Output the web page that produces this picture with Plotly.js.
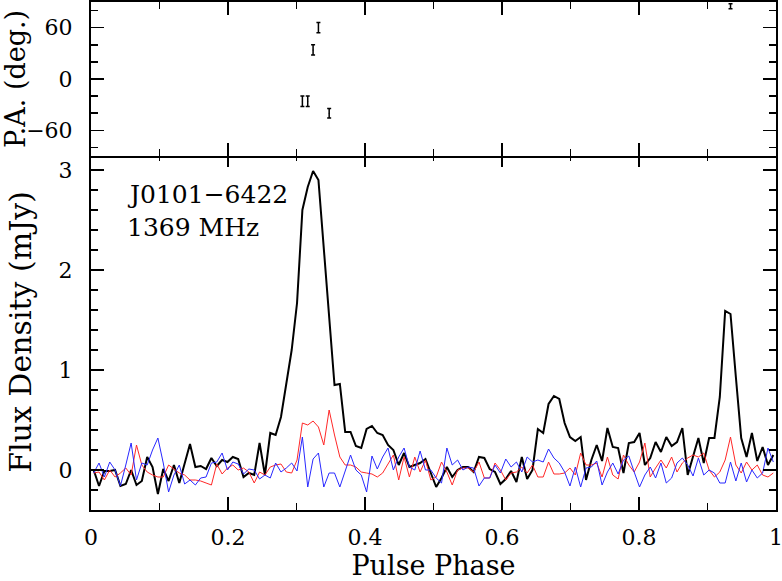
<!DOCTYPE html>
<html>
<head>
<meta charset="utf-8">
<script src="https://cdn.plot.ly/plotly-3.0.1.min.js"></script>
<style>
  body { margin: 0; background: #fff; }
  #viz { width: 782px; height: 581px; }
</style>
</head>
<body>
<div id="viz"></div>
<script>
// 128 phase bins across one rotation
var nBins = 128;

// total intensity (mJy)
var totalI = [
  0.00, -0.16, -0.01, -0.01, 0.00, -0.16, -0.14, 0.00, -0.15, -0.11,
  0.13, 0.03, -0.24, 0.01, -0.11, 0.05, -0.13, 0.07, 0.26, 0.03,
  0.04, 0.01, 0.12, 0.04, 0.10, 0.08, 0.13, 0.11, -0.07, -0.03,
  -0.05, 0.27, -0.05, 0.37, 0.35, 0.53, 0.87, 1.20, 1.67, 2.60,
  2.83, 2.99, 2.90, 2.20, 1.50, 0.85, 0.86, 0.38, 0.38, 0.24,
  0.22, 0.41, 0.44, 0.37, 0.35, 0.25, 0.20, 0.05, 0.17, 0.03,
  0.05, 0.07, 0.11, -0.03, -0.17, -0.08, 0.03, -0.07, 0.00, 0.03,
  0.03, -0.02, 0.13, 0.12, 0.01, -0.02, -0.14, -0.09, -0.01, -0.12,
  0.13, -0.09, 0.00, 0.41, 0.37, 0.66, 0.74, 0.71, 0.47, 0.33,
  0.29, 0.33, -0.10, 0.10, 0.25, 0.09, 0.42, 0.23, 0.22, -0.03,
  0.27, 0.28, 0.37, 0.05, 0.12, 0.28, 0.18, 0.33, 0.24, 0.28,
  0.42, -0.05, 0.13, 0.32, 0.07, 0.32, 0.32, 0.73, 1.59, 1.56,
  0.93, 0.32, 0.13, 0.37, 0.09, 0.23, 0.05, 0.15
];

// linear polarisation (red)
var linearL = [
  -0.03, -0.02, -0.10, 0.00, -0.07, -0.03, 0.02, -0.05, 0.25, 0.05,
  -0.02, -0.05, -0.07, -0.07, 0.05, 0.01, -0.03, -0.05, -0.10, -0.10,
  -0.11, -0.13, -0.15, 0.06, -0.04, 0.02, 0.05, 0.00, 0.02, -0.02,
  -0.13, -0.02, -0.05, 0.03, 0.05, 0.06, -0.02, -0.03, 0.10, 0.47,
  0.45, 0.49, 0.43, 0.25, 0.60, 0.35, 0.13, 0.05, 0.05, 0.03,
  -0.02, -0.03, -0.04, -0.07, -0.03, 0.06, 0.15, -0.10, 0.13, -0.07,
  0.13, -0.02, 0.10, -0.10, -0.07, 0.08, -0.02, -0.15, 0.00, 0.02,
  0.02, -0.02, 0.08, -0.08, -0.08, 0.07, 0.00, -0.10, -0.03, -0.02,
  0.03, -0.03, 0.05, -0.07, -0.07, 0.08, -0.04, -0.04, -0.03, 0.02,
  -0.05, 0.17, 0.05, 0.05, 0.07, -0.07, 0.13, -0.05, -0.09, 0.15,
  0.05, -0.02, 0.08, 0.27, -0.07, 0.02, 0.10, 0.02, 0.13, -0.02,
  0.07, 0.12, 0.15, 0.13, 0.17, 0.00, -0.07, -0.02, 0.10, 0.33,
  0.05, -0.03, 0.08, 0.00, 0.05, -0.05, -0.07, -0.03
];

// circular polarisation (blue)
var circV = [
  -0.03, 0.07, -0.07, 0.08, 0.00, -0.16, 0.05, 0.27, -0.10, 0.07,
  0.05, 0.20, 0.32, 0.07, -0.22, -0.05, 0.05, -0.14, -0.10, -0.15,
  -0.08, -0.07, 0.07, 0.08, 0.17, 0.00, 0.08, 0.06, -0.04, 0.01,
  0.00, -0.09, -0.05, -0.08, 0.07, -0.02, 0.02, 0.07, -0.01, 0.33,
  -0.17, 0.11, 0.17, -0.17, -0.03, -0.03, -0.17, -0.02, 0.15, 0.00,
  -0.05, -0.22, 0.14, 0.01, 0.13, 0.22, 0.00, 0.13, 0.22, 0.03,
  0.00, 0.19, 0.00, 0.00, -0.08, -0.13, 0.22, 0.05, 0.10, 0.00,
  0.03, 0.02, -0.16, -0.08, -0.08, 0.05, -0.03, 0.11, 0.03, 0.08,
  -0.02, 0.13, 0.08, 0.10, 0.08, 0.21, 0.12, 0.07, -0.02, -0.16,
  0.03, -0.17, 0.02, 0.03, 0.09, -0.15, -0.02, 0.07, -0.04, 0.10,
  0.14, -0.02, -0.17, -0.05, 0.03, -0.08, 0.07, -0.13, -0.08, 0.07,
  0.12, 0.05, -0.06, 0.12, -0.05, 0.00, -0.03, -0.13, -0.13, 0.08,
  -0.11, 0.07, -0.12, 0.00, -0.08, -0.03, 0.22, 0.08
];

// position angle points
var paPhase = [0.3086, 0.3164, 0.3242, 0.3320, 0.3477, 0.9336];
var paDeg   = [-26, -26, 34, 60, -40, 85];
var paErr   = [6, 6, 6, 6, 5.5, 3];

// axis ticks
var phaseTicks = [0, 0.2, 0.4, 0.6, 0.8, 1];
var phaseLabels = ['0', '0.2', '0.4', '0.6', '0.8', '1'];
var fluxTicks = [0, 1, 2, 3];
var paTicks = [-60, 0, 60];
var paLabels = ['\u221260', '0', '60'];

var phase = [];
for (var i = 0; i < nBins; i++) phase.push((i + 0.5) / nBins);

var fnt = 'DejaVu Serif, serif';

var traceI = {x: phase, y: totalI, mode: 'lines', xaxis: 'x', yaxis: 'y',
  line: {color: 'black', width: 2}, showlegend: false};
var traceL = {x: phase, y: linearL, mode: 'lines', xaxis: 'x', yaxis: 'y',
  line: {color: 'rgb(255,40,40)', width: 1}, showlegend: false};
var traceV = {x: phase, y: circV, mode: 'lines', xaxis: 'x', yaxis: 'y',
  line: {color: 'rgb(40,40,255)', width: 1}, showlegend: false};
var tracePA = {x: paPhase, y: paDeg, mode: 'markers', xaxis: 'x2', yaxis: 'y2',
  marker: {size: 1, color: 'black'},
  error_y: {type: 'data', array: paErr, visible: true, color: 'black', thickness: 1.5, width: 2},
  showlegend: false};

var axStyle = {
  showline: true, linecolor: 'black', linewidth: 2, mirror: 'ticks',
  ticks: 'inside', ticklen: 13, tickwidth: 1.5, tickcolor: 'black',
  showgrid: false, zeroline: false, ticklabeloverflow: 'allow',
  tickfont: {family: fnt, size: 22, color: 'black'}
};
var minorStyle = {ticks: 'inside', ticklen: 7, tickwidth: 1.5, tickcolor: 'black'};

var split = 356 / 508;

var layout = {
  width: 782, height: 581,
  margin: {l: 91, r: 6, t: 2, b: 71},
  paper_bgcolor: 'white', plot_bgcolor: 'white',
  xaxis: Object.assign({}, axStyle, {
    domain: [0, 1], anchor: 'y', range: [0, 1],
    tickmode: 'array', tickvals: phaseTicks, ticktext: phaseLabels,
    minor: Object.assign({dtick: 0.1}, minorStyle),
    ticklabelstandoff: 7,
    title: {text: 'Pulse Phase', font: {family: fnt, size: 27, color: 'black'}, standoff: 4}
  }),
  yaxis: Object.assign({}, axStyle, {
    domain: [0, split], anchor: 'x', range: [-0.4, 3.16],
    tickmode: 'array', tickvals: fluxTicks,
    minor: Object.assign({dtick: 0.2}, minorStyle),
    ticklabelstandoff: 12,
    title: {text: 'Flux Density (mJy)', font: {family: fnt, size: 30, color: 'black'}, standoff: 18}
  }),
  xaxis2: Object.assign({}, axStyle, {
    domain: [0, 1], anchor: 'y2', range: [0, 1],
    tickmode: 'array', tickvals: phaseTicks,
    showticklabels: false,
    minor: Object.assign({dtick: 0.1}, minorStyle)
  }),
  yaxis2: Object.assign({}, axStyle, {
    domain: [split - 2 / 508, 1], anchor: 'x2', range: [-90, 90],
    tickmode: 'array', tickvals: paTicks, ticktext: paLabels,
    minor: Object.assign({dtick: 20}, minorStyle),
    ticklabelstandoff: 12,
    title: {text: 'P.A. (deg.)', font: {family: fnt, size: 27, color: 'black'}, standoff: 2}
  }),
  annotations: [
    {text: 'J0101\u22126422', x: 0.05, y: 2.76, xref: 'x', yref: 'y',
     xanchor: 'left', yanchor: 'middle', showarrow: false,
     font: {family: fnt, size: 25, color: 'black'}},
    {text: '1369 MHz', x: 0.05, y: 2.43, xref: 'x', yref: 'y',
     xanchor: 'left', yanchor: 'middle', showarrow: false,
     font: {family: fnt, size: 25, color: 'black'}}
  ]
};

Plotly.newPlot('viz', [traceI, traceL, traceV, tracePA], layout, {staticPlot: true});
</script>
</body>
</html>
